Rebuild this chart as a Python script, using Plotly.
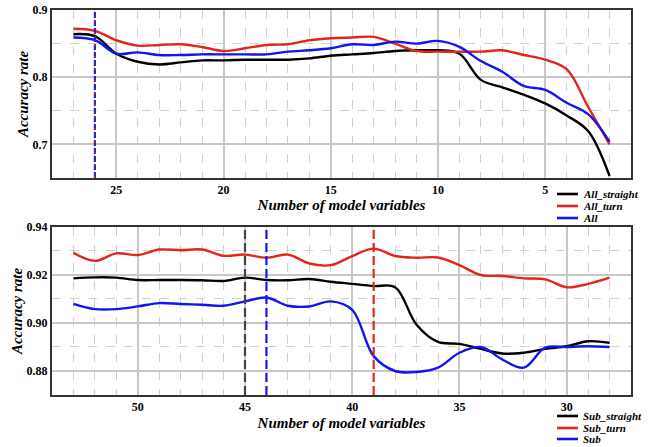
import plotly.graph_objects as go

# ---- data: top panel ----
top_x = [27, 26, 25, 24, 23, 22, 21, 20, 19, 18, 17, 16, 15, 14, 13, 12, 11, 10, 9, 8, 7, 6, 5, 4, 3, 2]
all_straight = [0.864, 0.861, 0.835, 0.823, 0.819, 0.822, 0.825, 0.825, 0.826, 0.826, 0.826, 0.828, 0.832, 0.834,
                0.836, 0.839, 0.840, 0.840, 0.835, 0.796, 0.785, 0.774, 0.761, 0.743, 0.720, 0.653]
all_turn = [0.872, 0.869, 0.855, 0.847, 0.848, 0.849, 0.845, 0.839, 0.843, 0.848, 0.849, 0.855, 0.858, 0.859,
            0.860, 0.850, 0.839, 0.838, 0.838, 0.838, 0.840, 0.833, 0.826, 0.812, 0.756, 0.700]
all_all = [0.859, 0.855, 0.835, 0.837, 0.833, 0.833, 0.834, 0.834, 0.834, 0.834, 0.838, 0.840, 0.843, 0.849,
           0.848, 0.853, 0.850, 0.854, 0.845, 0.824, 0.808, 0.787, 0.781, 0.762, 0.745, 0.704]
top_names = ["All_straight", "All_turn", "All"]
top_vlines = [26]

# ---- data: bottom panel ----
bot_x = [53, 52, 51, 50, 49, 48, 47, 46, 45, 44, 43, 42, 41, 40, 39, 38, 37, 36, 35, 34, 33, 32, 31, 30, 29, 28]
sub_straight = [0.9186, 0.9190, 0.9189, 0.9179, 0.9179, 0.9179, 0.9178, 0.9175, 0.9189, 0.9179, 0.9178, 0.9183,
                0.9172, 0.9163, 0.9154, 0.9149, 0.8993, 0.8921, 0.8913, 0.8892, 0.8873, 0.8876, 0.8892, 0.8903,
                0.8924, 0.8917]
sub_turn = [0.9292, 0.9259, 0.9290, 0.9283, 0.9306, 0.9303, 0.9306, 0.9280, 0.9285, 0.9272, 0.9285, 0.9248,
            0.9241, 0.9279, 0.9310, 0.9279, 0.9272, 0.9273, 0.9241, 0.9200, 0.9196, 0.9186, 0.9182, 0.9149,
            0.9163, 0.9189]
sub_all = [0.9080, 0.9058, 0.9058, 0.9069, 0.9083, 0.9079, 0.9076, 0.9072, 0.9090, 0.9106, 0.9072, 0.9069,
           0.9090, 0.9055, 0.8862, 0.8800, 0.8796, 0.8814, 0.8876, 0.8900, 0.8848, 0.8814, 0.8897, 0.8900,
           0.8903, 0.8900]
bot_names = ["Sub_straight", "Sub_turn", "Sub"]
bot_vlines = [45, 44, 39]   # best point for Sub_straight, Sub, Sub_turn

top_xticks = [5, 10, 15, 20, 25]
top_yticks = [0.7, 0.8, 0.9]
bot_xticks = [30, 35, 40, 45, 50]
bot_yticks = [0.88, 0.90, 0.92, 0.94]

BLACK = "#000000"
RED = "#e3261c"
BLUE = "#1414f0"
FONT = "Liberation Serif, Times New Roman, Times, serif"
COLORS = [BLACK, RED, BLUE]

fig = go.Figure()

def add_line(x, y, name, color, xa, ya):
    fig.add_trace(go.Scatter(x=x, y=y, name=name, mode="lines", showlegend=False,
                             line=dict(color=color, width=2.4, shape="spline", smoothing=1.0),
                             xaxis=xa, yaxis=ya))

for nm, ys, c in zip(top_names, [all_straight, all_turn, all_all], COLORS):
    add_line(top_x, ys, nm, c, "x", "y")
for nm, ys, c in zip(bot_names, [sub_straight, sub_turn, sub_all], COLORS):
    add_line(bot_x, ys, nm, c, "x2", "y2")

# vertical marker lines
for v in top_vlines:
    fig.add_shape(type="line", xref="x", yref="y domain", x0=v, x1=v, y0=0, y1=1,
                  line=dict(color="#2a2ab8", width=2.2, dash="6px,2px"))
    fig.add_shape(type="line", xref="x", yref="y domain", x0=v, x1=v, y0=0, y1=1,
                  line=dict(color=RED, width=1.2, dash="2px,10px"))
for v, c in zip(bot_vlines, ["#444444", BLUE, RED]):
    fig.add_shape(type="line", xref="x2", yref="y2 domain", x0=v, x1=v, y0=0, y1=1,
                  line=dict(color=c, width=2.2, dash="9px,4px"))

# compact legends (paper coordinates)
legfont = dict(family=FONT, size=11, color="black", weight="bold", style="italic")
for names, ys in [(top_names, [0.5221, 0.4909, 0.4597]), (bot_names, [-0.0545, -0.0857, -0.1143])]:
    for nm, yy, c in zip(names, ys, COLORS):
        fig.add_shape(type="line", xref="paper", yref="paper", x0=0.8722, x1=0.9085, y0=yy, y1=yy,
                      line=dict(color=c, width=2.6))
        fig.add_annotation(xref="paper", yref="paper", x=0.9154, y=yy, xanchor="left", yanchor="middle",
                           text=nm, showarrow=False, font=legfont, borderpad=0)

tickfont = dict(family=FONT, size=12, color="black", weight="bold")
titlefont = dict(family=FONT, size=15, color="black", weight="bold", style="italic")
grid = dict(showgrid=True, gridcolor="#c8c8c8", gridwidth=1.5, showline=True, linecolor="#333333",
            linewidth=2, mirror=True, ticks="", zeroline=False, tickfont=tickfont, automargin=False,
            ticklabeloverflow="allow")
minor = dict(showgrid=True, gridcolor="#d0d0d0", gridwidth=1, griddash="dash")

fig.update_layout(
    width=651, height=447,
    margin=dict(l=52, r=20, t=10, b=52),
    plot_bgcolor="white", paper_bgcolor="white",
    font=dict(family=FONT, color="black"),
    showlegend=False,
    xaxis=dict(domain=[0, 1], anchor="y", range=[28, 1], tickvals=top_xticks,
               minor=dict(dtick=1, tick0=0, **minor),
               title=dict(text="Number of model variables", font=titlefont, standoff=1), **grid),
    yaxis=dict(domain=[0.5636, 1], anchor="x", range=[0.65, 0.9], tickvals=top_yticks, tickformat=".1f",
               minor=dict(dtick=0.05, tick0=0.0, **minor),
               title=dict(text="Accuracy rate", font=titlefont, standoff=0), **grid),
    xaxis2=dict(domain=[0, 1], anchor="y2", range=[54, 27], tickvals=bot_xticks,
                minor=dict(dtick=1, tick0=0, **minor),
                title=dict(text="Number of model variables", font=titlefont, standoff=4), **grid),
    yaxis2=dict(domain=[0, 0.4364], anchor="x2", range=[0.87, 0.94], tickvals=bot_yticks, tickformat=".2f",
                minor=dict(dtick=0.01, tick0=0.0, **minor),
                title=dict(text="Accuracy rate", font=titlefont, standoff=0), **grid),
)

# remove the browser's default 8px page margin so the 651x447 figure fills the window exactly
fig.write_html("out.html", config={"displayModeBar": False},
               post_script="document.body.style.margin='0px';")
